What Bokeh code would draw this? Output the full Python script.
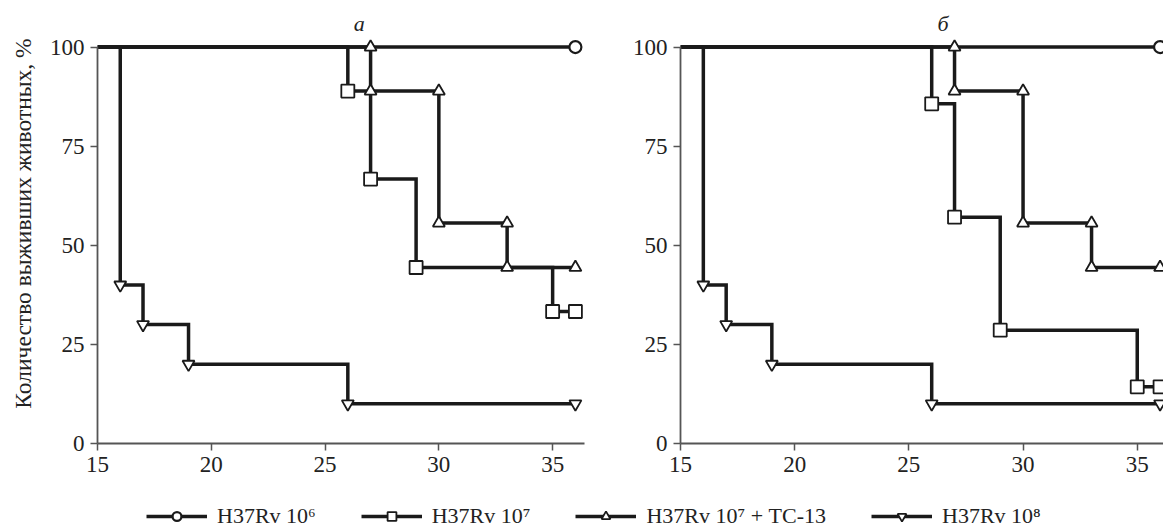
from bokeh.plotting import figure
from bokeh.layouts import column, row
from bokeh.models import Range1d, Label, Legend, LegendItem, FixedTicker, ColumnDataSource
from bokeh.embed import file_html
from bokeh.resources import INLINE

# ---------------- data ----------------
x_ticks = [15, 20, 25, 30, 35]
y_ticks = [0, 25, 50, 75, 100]
panel_titles = ["а", "б"]
series_names = ["H37Rv 10⁶", "H37Rv 10⁷", "H37Rv 10⁷ + ТС-13", "H37Rv 10⁸"]

# panel а
a_106_days = [15, 36]
a_106_surv = [100, 100]
a_107_days = [15, 26, 27, 29, 35, 36]
a_107_surv = [100, 88.9, 66.7, 44.4, 33.3, 33.3]
a_tc_days = [15, 27, 30, 33, 36]
a_tc_surv = [100, 88.9, 55.6, 44.4, 44.4]
a_108_days = [15, 16, 17, 19, 26, 36]
a_108_surv = [100, 40, 30, 20, 10, 10]

# panel б
b_106_days = [15, 36]
b_106_surv = [100, 100]
b_107_days = [15, 26, 27, 29, 35, 36]
b_107_surv = [100, 85.7, 57.1, 28.6, 14.3, 14.3]
b_tc_days = [15, 27, 30, 33, 36]
b_tc_surv = [100, 88.9, 55.6, 44.4, 44.4]
b_108_days = [15, 16, 17, 19, 26, 36]
b_108_surv = [100, 40, 30, 20, 10, 10]

FONT = "Liberation Serif"
INK = "#1a1a1a"
AXIS = "#555555"
TEXT = "#222222"
markers = ["circle", "square", "triangle", "inverted_triangle"]
msizes = [12, 13, 12, 12]
mwidths = [2.2, 1.8, 1.8, 1.8]


def marker_points(days, surv, both_ends):
    xs, ys = [], []
    for i in range(1, len(days)):
        if both_ends and surv[i] != surv[i - 1]:
            xs.append(days[i]); ys.append(surv[i - 1])
        xs.append(days[i]); ys.append(surv[i])
    return xs, ys


def panel(series, title, width, mbl, mbr, xend, ylabel):
    # frame: top at y=3, bottom at y=443 (page), 111 units -> ~3.96 px per unit
    p = figure(width=width, height=484, x_range=Range1d(15, xend), y_range=Range1d(0, 111),
               output_backend="svg", toolbar_location=None,
               min_border_left=mbl, min_border_right=mbr, min_border_top=3, min_border_bottom=41)
    p.outline_line_color = None
    p.grid.visible = False
    p.background_fill_color = "white"
    p.border_fill_color = "white"
    for ax in (p.xaxis[0], p.yaxis[0]):
        ax.axis_line_color = AXIS
        ax.axis_line_width = 1.8
        ax.major_tick_line_color = AXIS
        ax.major_tick_line_width = 1.5
        ax.major_tick_out = 7
        ax.major_tick_in = 0
        ax.minor_tick_line_color = None
        ax.major_label_text_font = FONT
        ax.major_label_text_font_size = "23px"
        ax.major_label_text_color = TEXT
        ax.major_label_standoff = 6
    p.xaxis.ticker = FixedTicker(ticks=x_ticks)
    p.yaxis.ticker = FixedTicker(ticks=y_ticks)
    p.yaxis.bounds = (0, 100)
    if ylabel:
        p.yaxis.axis_label = ylabel
        p.yaxis.axis_label_text_font = FONT
        p.yaxis.axis_label_text_font_size = "23.5px"
        p.yaxis.axis_label_text_font_style = "normal"
        p.yaxis.axis_label_text_color = TEXT
        p.yaxis.axis_label_standoff = 11

    for k, (days, surv) in enumerate(series):
        p.step(days, surv, mode="after", line_width=3.5, line_color=INK, line_join="miter")
    for k, (days, surv) in enumerate(series):
        mx, my = marker_points(days, surv, both_ends=(k == 2))
        p.scatter(mx, my, marker=markers[k], size=msizes[k], fill_color="white",
                  line_color=INK, line_width=mwidths[k])

    p.add_layout(Label(x=26.5, y=106, text=title, text_font=FONT, text_font_style="italic",
                       text_font_size="22px", text_align="center", text_baseline="middle",
                       text_color=TEXT))
    return p


pa = panel([(a_106_days, a_106_surv), (a_107_days, a_107_surv), (a_tc_days, a_tc_surv), (a_108_days, a_108_surv)],
           panel_titles[0], 610, 97, 26, 36.4, "Количество выживших животных, %")
pb = panel([(b_106_days, b_106_surv), (b_107_days, b_107_surv), (b_tc_days, b_tc_surv), (b_108_days, b_108_surv)],
           panel_titles[1], 553, 70, 0, 36.15, None)

# legend strip
lg = figure(width=1163, height=45, x_range=Range1d(0, 1), y_range=Range1d(0, 1),
            output_backend="svg", toolbar_location=None, min_border=0)
lg.outline_line_color = None
lg.axis.visible = False
lg.grid.visible = False
items = []
for k, name in enumerate(series_names):
    src = ColumnDataSource(data=dict(x=[-10, -9], y=[-10, -10]))
    lr = lg.line("x", "y", source=src, line_width=3.5, line_color=INK)
    sr = lg.scatter("x", "y", source=src, marker=markers[k], size=msizes[k], fill_color="white",
                    line_color=INK, line_width=mwidths[k])
    items.append(LegendItem(label=name, renderers=[lr, sr]))
legend = Legend(items=items, orientation="horizontal", location=(146, 0),
                glyph_width=61, glyph_height=22, label_standoff=10, spacing=45,
                padding=0, margin=0, border_line_color=None, background_fill_alpha=0,
                label_text_font=FONT, label_text_font_size="22px", label_text_color=TEXT)
lg.add_layout(legend, "center")

layout = column(row(pa, pb), lg)
open("out.html", "w").write(file_html(layout, INLINE))
